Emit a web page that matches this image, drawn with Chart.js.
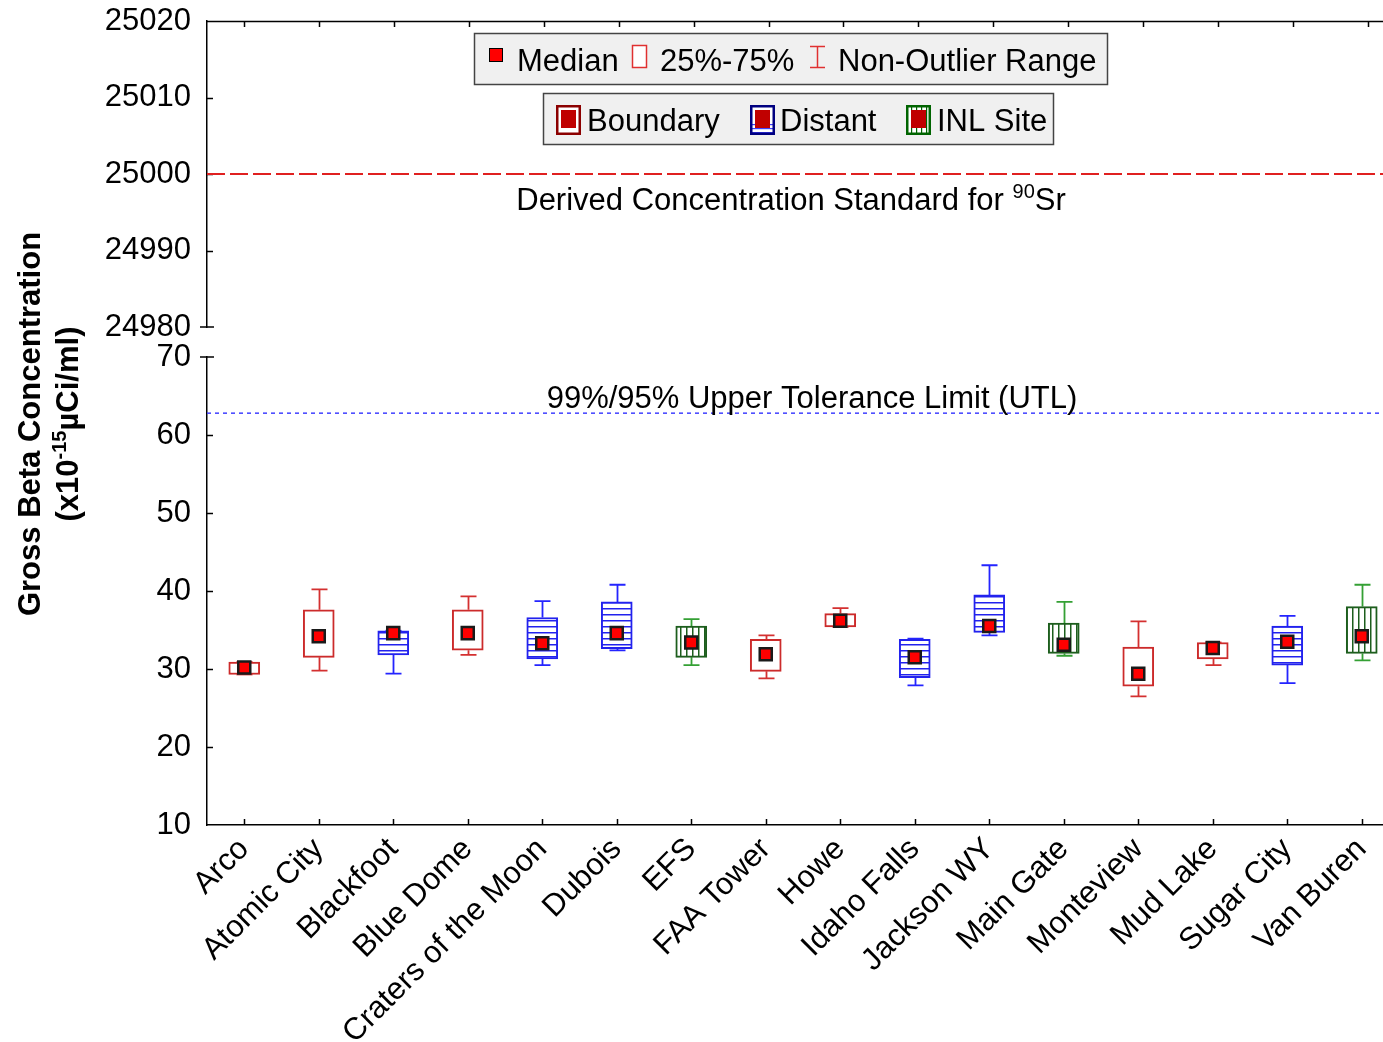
<!DOCTYPE html>
<html>
<head>
<meta charset="utf-8">
<script src="https://cdn.jsdelivr.net/npm/chart.js@4.4.1/dist/chart.umd.min.js"></script>
<style>
  html, body { margin: 0; padding: 0; background: #fff; overflow: hidden; }
  #wrap { position: relative; width: 1410px; height: 1042px; }
  canvas { position: absolute; left: 0; top: 0; }
</style>
</head>
<body>
<div id="wrap">
  <canvas id="bottomChart" width="1410" height="1042"></canvas>
  <canvas id="topChart" width="1410" height="1042"></canvas>
</div>
<script>
// Sites and their group
const sites = ['Arco', 'Atomic City', 'Blackfoot', 'Blue Dome', 'Craters of the Moon', 'Dubois', 'EFS',
  'FAA Tower', 'Howe', 'Idaho Falls', 'Jackson WY', 'Main Gate', 'Monteview', 'Mud Lake', 'Sugar City', 'Van Buren'];
const groups = ['Boundary', 'Boundary', 'Distant', 'Boundary', 'Distant', 'Distant', 'INL Site',
  'Boundary', 'Boundary', 'Distant', 'Distant', 'INL Site', 'Boundary', 'Boundary', 'Distant', 'INL Site'];

// Box plot values (x10^-15 uCi/ml)
const whiskerLow  = [29.3, 29.8, 29.4, 31.8, 30.5, 32.4, 30.5, 28.8, 35.4, 27.9, 34.3, 31.7, 26.5, 30.5, 28.2, 31.1];
const q1          = [29.3, 31.5, 31.8, 32.4, 31.3, 32.6, 31.5, 29.7, 35.4, 28.9, 34.7, 32.0, 27.8, 31.3, 30.5, 32.0];
const medians     = [30.2, 34.2, 34.6, 34.6, 33.3, 34.6, 33.4, 31.9, 36.2, 31.5, 35.5, 33.1, 29.4, 32.7, 33.5, 34.2];
const q3          = [30.9, 37.6, 34.9, 37.6, 36.6, 38.6, 35.5, 33.8, 37.1, 33.8, 39.5, 35.9, 32.8, 33.4, 35.5, 38.0];
const whiskerHigh = [30.9, 40.2, 34.9, 39.3, 38.7, 40.8, 36.4, 34.3, 37.8, 33.9, 43.3, 38.6, 36.1, 33.4, 36.8, 40.8];

const topTicks = [24980, 24990, 25000, 25010, 25020];
const bottomTicks = [10, 20, 30, 40, 50, 60, 70];
const dcsValue = 25000;   // Derived Concentration Standard for 90Sr
const utlValue = 62.8;    // 99%/95% UTL

const W = 1410, H = 1042;
const PAD_RIGHT = 5;
const ink = '#000';
const FONT = '"Liberation Sans", Arial, sans-serif';
const FS = 31;

const boxColor = { 'Boundary': '#cc2b2b', 'Distant': '#2222ee', 'INL Site': '#1d5e1d' };
const whiskColor = { 'Boundary': '#d43030', 'Distant': '#2424ff', 'INL Site': '#34a034' };

function makePattern(ctx, kind, color) {
    const c = document.createElement('canvas');
    c.width = 6; c.height = 6;
    const p = c.getContext('2d');
    p.fillStyle = '#fff';
    p.fillRect(0, 0, 6, 6);
    p.fillStyle = color;
    if (kind === 'h') p.fillRect(0, 2, 6, 1.5);
    else p.fillRect(2, 0, 1.5, 6);
    return ctx.createPattern(c, 'repeat');
}

function yAxisOpts(tickList, min, max) {
    return {
        min: min, max: max,
        afterBuildTicks: s => { s.ticks = tickList.map(v => ({ value: v })); },
        afterFit: s => { s.width = 207; s.paddingTop = 0; s.paddingBottom = 0; },
        ticks: { callback: v => String(v), color: ink, padding: 16, font: { family: FONT, size: FS } },
        grid: { display: false, drawTicks: false },
        border: { display: true, color: ink, width: 1.5 }
    };
}

// inward tick marks on the left axis
function drawYTicks(chart, list, skip) {
    const { ctx, chartArea } = chart;
    const y = chart.scales.y;
    ctx.save();
    ctx.strokeStyle = ink;
    ctx.lineWidth = 1.5;
    list.forEach(v => {
        if (skip.includes(v)) return;
        const py = Math.round(y.getPixelForValue(v)) + 0.5;
        ctx.beginPath();
        ctx.moveTo(chartArea.left, py);
        ctx.lineTo(chartArea.left + 6, py);
        ctx.stroke();
    });
    ctx.restore();
}

function drawCap(ctx, x, y) {
    ctx.save();
    ctx.strokeStyle = ink;
    ctx.lineWidth = 1.5;
    ctx.beginPath();
    ctx.moveTo(x - 7, y);
    ctx.lineTo(x + 7, y);
    ctx.stroke();
    ctx.restore();
}

// text with a superscript piece: parts = [[text, size, rise], ...]
function partsWidth(ctx, parts, weight) {
    let w = 0;
    parts.forEach(([t, size]) => { ctx.font = weight + ' ' + size + 'px ' + FONT; w += ctx.measureText(t).width; });
    return w;
}
function drawParts(ctx, parts, x, y, weight) {
    parts.forEach(([t, size, rise]) => {
        ctx.font = weight + ' ' + size + 'px ' + FONT;
        ctx.fillText(t, x, y - rise);
        x += ctx.measureText(t).width;
    });
}

// ---------- top panel: DCS ----------
const topPlugin = {
    id: 'topDecor',
    afterDraw(chart) {
        const { ctx, chartArea } = chart;
        const x = chart.scales.x, y = chart.scales.y;
        drawYTicks(chart, topTicks, [24980, 25020]);
        // top border with tick marks
        ctx.save();
        ctx.strokeStyle = ink;
        ctx.lineWidth = 1.5;
        ctx.beginPath();
        ctx.moveTo(chartArea.left, chartArea.top + 0.5);
        ctx.lineTo(chartArea.right, chartArea.top + 0.5);
        sites.forEach((s, i) => {
            const px = Math.round(x.getPixelForValue(i)) + 0.5;
            ctx.moveTo(px, chartArea.top);
            ctx.lineTo(px, chartArea.top + 6);
        });
        ctx.stroke();
        ctx.restore();
        drawCap(ctx, chartArea.left, chartArea.bottom);

        // DCS line
        const py = y.getPixelForValue(dcsValue);
        ctx.save();
        ctx.strokeStyle = '#e02020';
        ctx.lineWidth = 2;
        ctx.setLineDash([18, 5]);
        ctx.beginPath();
        ctx.moveTo(chartArea.left, py);
        ctx.lineTo(chartArea.right, py);
        ctx.stroke();
        ctx.restore();

        ctx.save();
        ctx.fillStyle = ink;
        ctx.textBaseline = 'alphabetic';
        const dcsParts = [['Derived Concentration Standard for ', FS, 0], ['90', 20, 12], ['Sr', FS, 0]];
        const dw = partsWidth(ctx, dcsParts, 'normal');
        drawParts(ctx, dcsParts, 791 - dw / 2, py + 36, 'normal');
        ctx.restore();

        drawLegends(ctx);
    }
};

function drawLegends(ctx) {
    ctx.save();
    // legend 1
    ctx.fillStyle = '#f0f0f0';
    ctx.fillRect(474, 33, 634, 52);
    ctx.strokeStyle = '#444';
    ctx.lineWidth = 1.5;
    ctx.strokeRect(474.5, 33.5, 633, 51);

    ctx.fillStyle = '#ff0000';
    ctx.fillRect(489, 48, 14, 14);
    ctx.strokeStyle = '#000';
    ctx.lineWidth = 1;
    ctx.strokeRect(489.5, 48.5, 13, 13);

    ctx.fillStyle = '#fff';
    ctx.fillRect(632, 45, 15, 23);
    ctx.strokeStyle = '#e03030';
    ctx.lineWidth = 1.5;
    ctx.strokeRect(632.5, 45.5, 14, 22);

    ctx.beginPath();
    ctx.moveTo(817.5, 46); ctx.lineTo(817.5, 67);
    ctx.moveTo(810, 46.5); ctx.lineTo(825, 46.5);
    ctx.moveTo(810, 67.5); ctx.lineTo(825, 67.5);
    ctx.stroke();

    ctx.fillStyle = ink;
    ctx.font = FS + 'px ' + FONT;
    ctx.textBaseline = 'alphabetic';
    ctx.fillText('Median', 517, 71);
    ctx.fillText('25%-75%', 660, 71);
    ctx.fillText('Non-Outlier Range', 838, 71);

    // legend 2
    ctx.fillStyle = '#f0f0f0';
    ctx.fillRect(543, 93, 511, 52);
    ctx.strokeStyle = '#444';
    ctx.lineWidth = 1.5;
    ctx.strokeRect(543.5, 93.5, 510, 51);

    const icons = [[556, '#8b0000', null], [750, '#000080', 'h'], [906, '#006400', 'v']];
    icons.forEach(([ix, col, kind]) => {
        ctx.fillStyle = '#fff';
        ctx.fillRect(ix, 105, 25, 30);
        if (kind === 'h') {
            ctx.fillStyle = '#4040ff';
            for (let yy = 124; yy < 134; yy += 4) ctx.fillRect(ix, yy, 25, 1.2);
        }
        if (kind === 'v') {
            ctx.fillStyle = '#006400';
            for (let xx = ix + 5; xx < ix + 24; xx += 5) ctx.fillRect(xx, 105, 1.2, 30);
        }
        ctx.fillStyle = '#c00000';
        ctx.fillRect(ix + 5, 110, 15, 18);
        ctx.strokeStyle = col;
        ctx.lineWidth = 2.5;
        ctx.strokeRect(ix + 1.25, 106.25, 22.5, 27.5);
    });
    ctx.fillStyle = ink;
    ctx.font = FS + 'px ' + FONT;
    ctx.fillText('Boundary', 587, 131);
    ctx.fillText('Distant', 780, 131);
    ctx.fillText('INL Site', 937, 131);
    ctx.restore();
}

// ---------- bottom panel: box plots ----------
const whiskerPlugin = {
    id: 'whiskers',
    beforeDatasetsDraw(chart) {
        const { ctx } = chart;
        const x = chart.scales.x, y = chart.scales.y;
        ctx.save();
        ctx.lineWidth = 1.8;
        sites.forEach((s, i) => {
            const cx = Math.round(x.getPixelForValue(i)) + 0.5;
            ctx.strokeStyle = whiskColor[groups[i]];
            [[q3[i], whiskerHigh[i]], [q1[i], whiskerLow[i]]].forEach(([from, to]) => {
                const y0 = y.getPixelForValue(from), y1 = y.getPixelForValue(to);
                ctx.beginPath();
                ctx.moveTo(cx, y0); ctx.lineTo(cx, y1);
                ctx.moveTo(cx - 8, y1); ctx.lineTo(cx + 8, y1);
                ctx.stroke();
            });
        });
        ctx.restore();
    }
};

const bottomPlugin = {
    id: 'bottomDecor',
    afterDraw(chart) {
        const { ctx, chartArea } = chart;
        const x = chart.scales.x, y = chart.scales.y;
        drawYTicks(chart, bottomTicks, [10, 70]);
        drawCap(ctx, chartArea.left, chartArea.top);
        // inward x ticks
        ctx.save();
        ctx.strokeStyle = ink;
        ctx.lineWidth = 1.5;
        ctx.beginPath();
        sites.forEach((s, i) => {
            const px = Math.round(x.getPixelForValue(i)) + 0.5;
            ctx.moveTo(px, chartArea.bottom);
            ctx.lineTo(px, chartArea.bottom - 6);
        });
        ctx.stroke();
        ctx.restore();

        // UTL line
        const py = y.getPixelForValue(utlValue);
        ctx.save();
        ctx.strokeStyle = '#4040ff';
        ctx.lineWidth = 1.5;
        ctx.setLineDash([4, 4]);
        ctx.beginPath();
        ctx.moveTo(chartArea.left, py);
        ctx.lineTo(chartArea.right, py);
        ctx.stroke();
        ctx.restore();

        ctx.save();
        ctx.fillStyle = ink;
        ctx.font = FS + 'px ' + FONT;
        ctx.textAlign = 'center';
        ctx.fillText('99%/95% Upper Tolerance Limit (UTL)', 812, py - 5);
        ctx.restore();

        // y axis title
        ctx.save();
        ctx.fillStyle = ink;
        ctx.translate(40, 424);
        ctx.rotate(-Math.PI / 2);
        ctx.font = 'bold 31px ' + FONT;
        ctx.textAlign = 'center';
        ctx.fillText('Gross Beta Concentration', 0, 0);
        ctx.textAlign = 'left';
        const tParts = [['(x10', 31, 0], ['-15', 20, 12], ['\u00b5Ci/ml)', 31, 0]];
        const tw = partsWidth(ctx, tParts, 'bold');
        drawParts(ctx, tParts, -tw / 2, 38, 'bold');
        ctx.restore();
    }
};

window.addEventListener('load', function() {
    const topCtx = document.getElementById('topChart').getContext('2d');
    const botCtx = document.getElementById('bottomChart').getContext('2d');

    new Chart(topCtx, {
        type: 'bar',
        data: { labels: sites, datasets: [] },
        options: {
            responsive: false, animation: false, events: [],
            layout: { padding: { top: 21, bottom: H - 327, left: 0, right: PAD_RIGHT } },
            plugins: { legend: { display: false }, tooltip: { enabled: false } },
            scales: {
                x: { display: false, offset: true },
                y: yAxisOpts(topTicks, 24980, 25020)
            }
        },
        plugins: [topPlugin]
    });

    const fills = groups.map(g => g === 'Distant' ? makePattern(botCtx, 'h', boxColor[g])
        : g === 'INL Site' ? makePattern(botCtx, 'v', boxColor[g]) : '#ffffff');

    new Chart(botCtx, {
        type: 'bar',
        data: {
            labels: sites,
            datasets: [
                {
                    type: 'line',
                    label: 'Median',
                    data: medians,
                    showLine: false,
                    pointStyle: 'rect',
                    pointRadius: 8.5,
                    pointBackgroundColor: '#ff0000',
                    pointBorderColor: '#1a1a1a',
                    pointBorderWidth: 2.5,
                    order: 1
                },
                {
                    type: 'bar',
                    label: '25%-75%',
                    data: q1.map((v, i) => [v, q3[i]]),
                    backgroundColor: fills,
                    borderColor: groups.map(g => boxColor[g]),
                    borderWidth: 2,
                    borderSkipped: false,
                    barThickness: 31,
                    order: 2
                }
            ]
        },
        options: {
            responsive: false, animation: false, events: [],
            layout: { padding: { top: 357, bottom: 0, left: 0, right: PAD_RIGHT } },
            plugins: { legend: { display: false }, tooltip: { enabled: false } },
            scales: {
                x: {
                    afterFit: s => { s.height = H - 825; s.paddingLeft = 0; s.paddingRight = 0; },
                    ticks: { color: ink, autoSkip: false, minRotation: 45, maxRotation: 45, padding: 6,
                             font: { family: FONT, size: FS } },
                    grid: { display: false, drawTicks: false },
                    border: { display: true, color: ink, width: 1.5 }
                },
                y: yAxisOpts(bottomTicks, 10, 70)
            }
        },
        plugins: [whiskerPlugin, bottomPlugin]
    });
});
</script>
</body>
</html>
